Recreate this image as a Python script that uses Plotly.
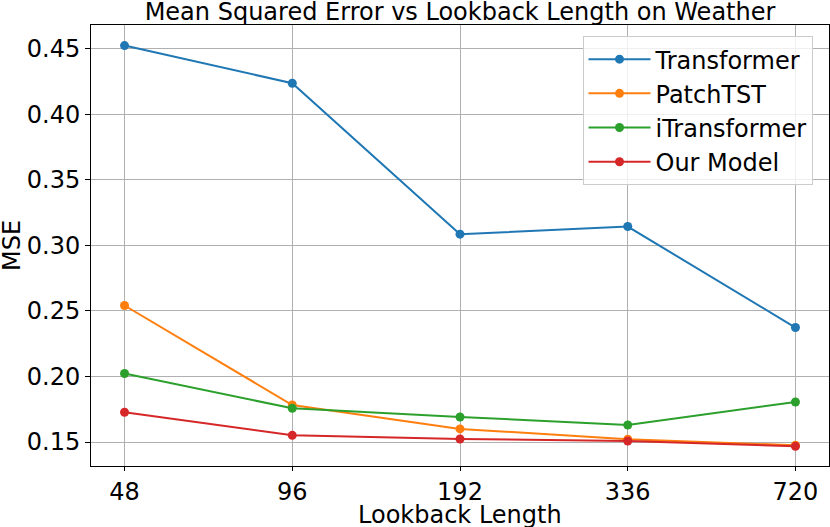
import plotly.graph_objects as go

# lookback lengths (categorical x axis)
lookback = ['48', '96', '192', '336', '720']

# MSE values
transformer = [0.4523, 0.4236, 0.3085, 0.3143, 0.2373]
patchtst = [0.2541, 0.1782, 0.1600, 0.1521, 0.1475]
itransformer = [0.2022, 0.1757, 0.1691, 0.1630, 0.1805]
our_model = [0.1727, 0.1551, 0.1523, 0.1508, 0.1467]

series = [
    ('Transformer', transformer, '#1f77b4'),
    ('PatchTST', patchtst, '#ff7f0e'),
    ('iTransformer', itransformer, '#2ca02c'),
    ('Our Model', our_model, '#d62728'),
]

FONT = 'DejaVu Sans'
FS = 24
text_font = dict(family=FONT, size=FS, color='black')

fig = go.Figure()
for name, vals, color in series:
    fig.add_trace(go.Scatter(x=lookback, y=vals, name=name, mode='lines+markers',
                             line=dict(color=color, width=2),
                             marker=dict(color=color, size=9)))

#### axes styled like matplotlib defaults with grid
axis_common = dict(showline=True, linecolor='black', linewidth=1, mirror=True,
                   ticks='outside', tickcolor='black',
                   showgrid=True, gridcolor='#b0b0b0', gridwidth=1,
                   zeroline=False, automargin=False, tickfont=text_font)

fig.update_xaxes(type='category', range=[-0.2, 4.2], ticklen=4, **axis_common)
fig.update_yaxes(range=[0.1317, 0.468], tickvals=[0.15, 0.20, 0.25, 0.30, 0.35, 0.40, 0.45],
                 tickformat='.2f', ticklen=5, **axis_common)

#### axis titles as annotations so they sit where the reference has them
fig.add_annotation(text='Lookback Length', xref='paper', yref='paper', x=0.5, y=-0.075,
                   xanchor='center', yanchor='top', showarrow=False, font=text_font)
fig.add_annotation(text='MSE', xref='paper', yref='paper', x=-0.1077, y=0.5,
                   xanchor='center', yanchor='middle', textangle=-90, showarrow=False,
                   font=text_font)

fig.update_layout(
    width=830, height=527,
    margin=dict(l=91, r=1, t=25, b=61),
    paper_bgcolor='white', plot_bgcolor='white',
    title=dict(text='Mean Squared Error vs Lookback Length on Weather',
               font=text_font,
               x=0.5, xref='paper', xanchor='center',
               y=1, yref='paper', yanchor='bottom', pad=dict(b=5)),
    legend=dict(x=0.666, y=0.975, xanchor='left', yanchor='top', itemwidth=62,
                font=text_font,
                bgcolor='rgba(255,255,255,0.8)', bordercolor='#cccccc', borderwidth=1),
    showlegend=True,
)

# drop the default body margin so the figure fills the window exactly
fig.write_html('out.html', config={'displayModeBar': False},
               post_script="document.body.style.margin='0';document.body.style.overflow='hidden';")
